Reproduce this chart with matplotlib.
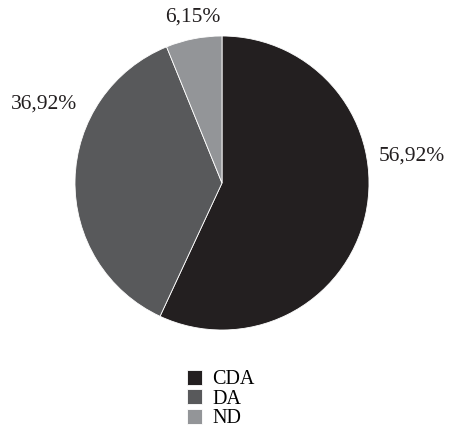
import matplotlib
matplotlib.use("Agg")
import matplotlib.pyplot as plt

categories = ["CDA", "DA", "ND"]
values = [56.92, 36.92, 6.15]
colors = ["#231f20", "#58595b", "#939598"]
# label positions in pie radius units
label_pos = [(1.29, 0.18), (-1.21, 0.54), (-0.20, 1.13)]

plt.rcParams['font.family'] = ['Liberation Serif', 'DejaVu Serif']

fig = plt.figure(figsize=(4.51, 4.28), dpi=100)
cx, cy, r = 222, 183, 147
ax = fig.add_axes([(cx - r) / 451, (428 - cy - r) / 428, 2 * r / 451, 2 * r / 428])

wedges, _ = ax.pie(values, colors=colors, startangle=90, counterclock=False,
                   wedgeprops=dict(edgecolor="white", linewidth=0.6), radius=1)
ax.set_xlim(-1, 1)
ax.set_ylim(-1, 1)
ax.set_aspect("equal")

for v, (x, y) in zip(values, label_pos):
    ax.text(x, y, ("%.2f%%" % v).replace(".", ","), ha="center", va="center",
            fontsize=15.5, color="#231f20")

fig.legend(wedges, categories, loc="upper center", bbox_to_anchor=(0.489, 0.159),
           frameon=False, fontsize=14.5, handlelength=0.75, handleheight=0.75,
           handletextpad=0.5, labelspacing=0.0, borderpad=0)

fig.savefig("out.png", dpi=100)
